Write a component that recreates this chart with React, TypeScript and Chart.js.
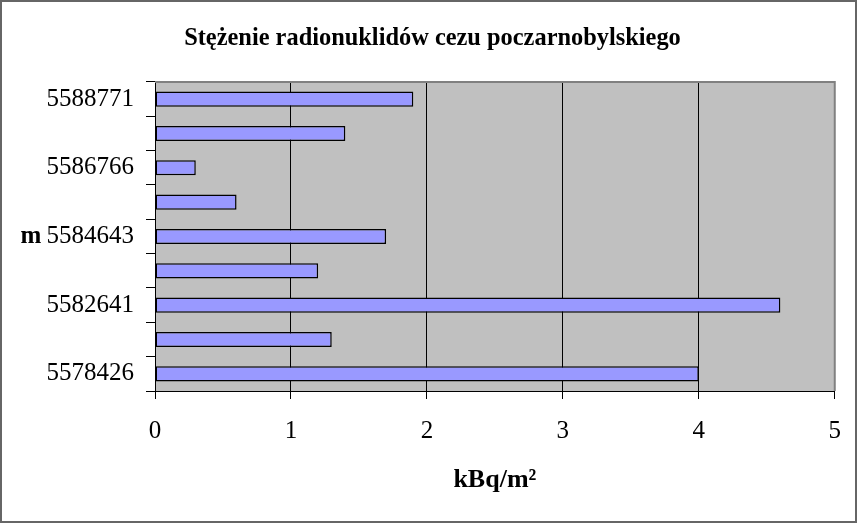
import React, { useEffect, useRef } from "react";
import { Chart, registerables } from "chart.js";

Chart.register(...registerables);

// Categories listed bottom-to-top (as in the original spreadsheet); unlabeled rows are blank
const categories = ["5578426", "", "5582641", "", "5584643", "", "5586766", "", "5588771"];
const concentration = [4.0, 1.3, 4.6, 1.2, 1.7, 0.6, 0.3, 1.4, 1.9];
const xTicks = [0, 1, 2, 3, 4, 5];
const titleText = "Stężenie radionuklidów cezu poczarnobylskiego";
const xTitle = "kBq/m²";
const yTitle = "m";
const yTitleIndex = 4;

const SERIF = "'Liberation Serif', 'Times New Roman', serif";

const plotPlugin = {
  id: "plotDecor",
  beforeDraw(chart: any) {
    const { ctx, chartArea } = chart;
    ctx.save();
    ctx.fillStyle = "#C0C0C0";
    ctx.fillRect(chartArea.left, chartArea.top, chartArea.right - chartArea.left, chartArea.bottom - chartArea.top);
    ctx.restore();
  },
  beforeDatasetsDraw(chart: any) {
    const { ctx, chartArea } = chart;
    ctx.save();
    ctx.strokeStyle = "#808080";
    ctx.lineWidth = 2;
    ctx.beginPath();
    ctx.moveTo(chartArea.left, chartArea.top);
    ctx.lineTo(chartArea.right, chartArea.top);
    ctx.lineTo(chartArea.right, chartArea.bottom);
    ctx.stroke();
    ctx.restore();
  },
  afterDraw(chart: any) {
    const { ctx } = chart;
    const y = chart.scales.y.getPixelForValue(yTitleIndex);
    ctx.save();
    ctx.font = `bold 25px ${SERIF}`;
    ctx.fillStyle = "#000";
    ctx.textAlign = "center";
    ctx.textBaseline = "middle";
    ctx.fillText(yTitle, 31, y);
    ctx.restore();
  },
};

export default function App() {
  const ref = useRef<HTMLCanvasElement | null>(null);

  useEffect(() => {
    document.body.style.margin = "0";
    const canvas = ref.current;
    if (!canvas) return;
    const chart = new Chart(canvas, {
      type: "bar",
      data: {
        labels: categories,
        datasets: [
          {
            data: concentration,
            backgroundColor: "#9999FF",
            borderColor: "#000000",
            borderWidth: 1.5,
            borderSkipped: false,
            barPercentage: 0.44,
            categoryPercentage: 1,
          },
        ],
      },
      options: {
        indexAxis: "y",
        responsive: false,
        animation: false,
        layout: { padding: { left: 30, right: 23, top: 0, bottom: 0 } },
        plugins: {
          legend: { display: false },
          tooltip: { enabled: false },
          title: {
            display: true,
            text: titleText,
            color: "#000",
            font: { family: SERIF, size: 24.4, weight: "bold", lineHeight: 1.2 },
            padding: { top: 24, bottom: 28.7 },
          },
        },
        scales: {
          x: {
            type: "linear",
            min: 0,
            max: 5,
            afterBuildTicks: (scale: any) => {
              scale.ticks = xTicks.map((v) => ({ value: v }));
            },
            afterFit: (scale: any) => {
              scale.height = 133;
            },
            ticks: {
              color: "#000",
              font: { family: SERIF, size: 25 },
              padding: 17,
              maxRotation: 0,
            },
            grid: {
              color: (ctx: any) => (ctx.tick && ctx.tick.value === 5 ? "#808080" : "#000000"),
              tickColor: "#000000",
              tickLength: 8,
              lineWidth: 1,
            },
            border: { color: "#000", width: 1 },
            title: {
              display: true,
              text: xTitle,
              color: "#000",
              font: { family: SERIF, size: 26, weight: "bold", lineHeight: 1.2 },
              padding: { top: 0, bottom: 28.4 },
            },
          },
          y: {
            type: "category",
            reverse: true,
            afterFit: (scale: any) => {
              scale.width = 125;
            },
            ticks: {
              color: "#000",
              font: { family: SERIF, size: 25 },
              padding: 12,
              autoSkip: false,
            },
            grid: {
              offset: true,
              drawOnChartArea: false,
              color: "#000",
              tickLength: 9,
            },
            border: { color: "#000", width: 1 },
          },
        },
      },
      plugins: [plotPlugin],
    } as any);
    return () => chart.destroy();
  }, []);

  return (
    <div style={{ position: "relative", width: 858, height: 524 }}>
      <canvas ref={ref} width={858} height={524} style={{ position: "absolute", left: 0, top: 0 }} />
      <div
        style={{
          position: "absolute",
          left: 0,
          top: 0,
          width: 857,
          height: 523,
          border: "2px solid #666",
          boxSizing: "border-box",
          pointerEvents: "none",
        }}
      />
    </div>
  );
}
